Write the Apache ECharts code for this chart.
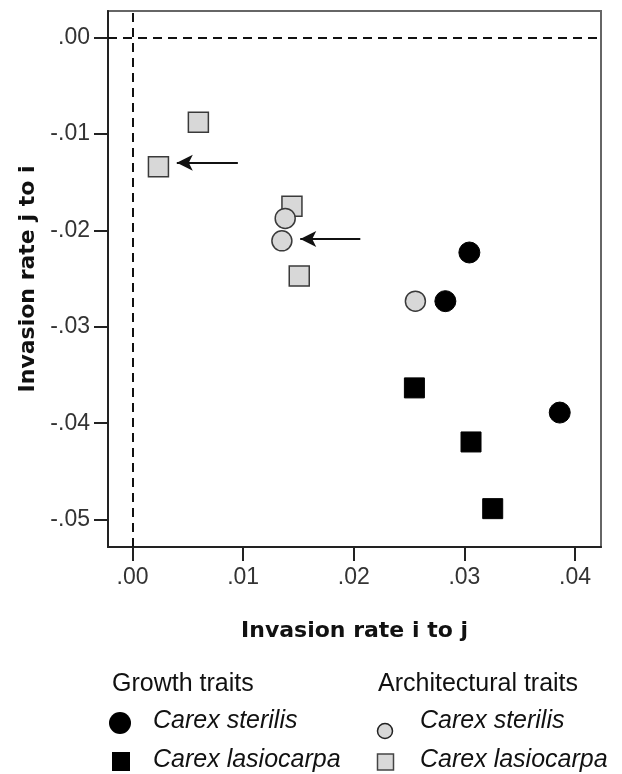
<!DOCTYPE html>
<html>
<head>
<meta charset="utf-8">
<script src="https://cdn.jsdelivr.net/npm/echarts@6/dist/echarts.min.js"></script>
<style>
html,body{margin:0;padding:0;background:#fff;}
#chart{width:622px;height:774px;}
</style>
</head>
<body>
<div id="chart"></div>
<script>
// ---- data ----
const xTicks = [0, 0.01, 0.02, 0.03, 0.04];
const yTicks = [0, -0.01, -0.02, -0.03, -0.04, -0.05];
const growthSterilis = [[0.03045, -0.02229], [0.02828, -0.02734], [0.03862, -0.0389]];
const growthLasiocarpa = [[0.02548, -0.03634], [0.0306, -0.04195], [0.03256, -0.04887]];
const archSterilis = [[0.0138, -0.01875], [0.0135, -0.02108], [0.02557, -0.02734]];
const archLasiocarpa = [[0.00595, -0.00878], [0.00234, -0.01339], [0.01441, -0.01748], [0.01507, -0.02474]];
const arrowLines = [
  [[0.00952, -0.01298], [0.0040, -0.01298]],
  [[0.02059, -0.0209], [0.01516, -0.0209]]
];
const xTitle = 'Invasion rate i to j';
const yTitle = 'Invasion rate j to i';

const fmt = v => (v < -1e-9 ? '-' : '') + Math.abs(v).toFixed(2).replace(/^0/, '');

const chart = echarts.init(document.getElementById('chart'), null, {renderer: 'canvas'});
const tickFont = {fontFamily: 'Liberation Sans, Arial, sans-serif', fontSize: 23, color: '#333'};
const titleFont = {fontFamily: 'DejaVu Sans', fontWeight: 'bold', fontSize: 22, color: '#111'};
const gray = '#d8d8d8';
const edge = '#3a3a3a';

const legendFont = 'Liberation Sans, Arial, sans-serif';
function legendText(x, y, text, italic) {
  return {type: 'text', left: x, top: y - 14, style: {text: text, fill: '#111',
    font: (italic ? 'italic ' : '') + '25px ' + legendFont}};
}

chart.setOption({
  animation: false,
  backgroundColor: '#fff',
  grid: {left: 108, top: 11, right: 21, bottom: 227, show: true, borderColor: '#666', borderWidth: 2},
  xAxis: {
    type: 'value', min: -0.00222, max: 0.04235,
    name: xTitle, nameLocation: 'middle', nameGap: 73, nameTextStyle: titleFont,
    axisLine: {show: true, onZero: false, lineStyle: {color: '#222', width: 2}},
    axisTick: {show: true, length: 14, customValues: xTicks, lineStyle: {color: '#222', width: 2}},
    axisLabel: {customValues: xTicks, formatter: fmt, margin: 19, ...tickFont},
    splitLine: {show: false}
  },
  yAxis: {
    type: 'value', min: -0.05285, max: 0.00277,
    name: yTitle, nameLocation: 'middle', nameGap: 67, nameRotate: 90, nameTextStyle: titleFont,
    axisLine: {show: true, onZero: false, lineStyle: {color: '#222', width: 2}},
    axisTick: {show: true, length: 14, customValues: yTicks, lineStyle: {color: '#222', width: 2}},
    axisLabel: {customValues: yTicks, formatter: fmt, margin: 18, ...tickFont},
    splitLine: {show: false}
  },
  series: [
    {
      name: 'Architectural traits: Carex lasiocarpa', type: 'scatter', symbol: 'rect', symbolSize: 20,
      data: archLasiocarpa, itemStyle: {color: gray, borderColor: edge, borderWidth: 1.5, opacity: 1}, z: 3,
      markLine: {
        silent: true, animation: false, label: {show: false},
        symbol: ['none', 'none'],
        lineStyle: {color: '#111', width: 2, type: [9, 6]},
        data: [{xAxis: 0}, {yAxis: 0}]
      }
    },
    {
      name: 'Architectural traits: Carex sterilis', type: 'scatter', symbol: 'circle', symbolSize: 20,
      data: archSterilis, itemStyle: {color: gray, borderColor: edge, borderWidth: 1.5, opacity: 1}, z: 3,
      markLine: {
        silent: true, animation: false, label: {show: false},
        symbol: ['none', 'arrow'], symbolSize: [12, 16],
        lineStyle: {color: '#111', width: 2, type: 'solid'},
        data: arrowLines.map(l => [{coord: l[0]}, {coord: l[1]}])
      }
    },
    {
      name: 'Growth traits: Carex sterilis', type: 'scatter', symbol: 'circle', symbolSize: 21,
      data: growthSterilis, itemStyle: {color: '#000', borderColor: '#000', borderWidth: 1, opacity: 1}, z: 3
    },
    {
      name: 'Growth traits: Carex lasiocarpa', type: 'scatter', symbol: 'rect', symbolSize: 20,
      data: growthLasiocarpa, itemStyle: {color: '#000', borderColor: '#000', borderWidth: 1, opacity: 1}, z: 3
    }
  ],
  graphic: [
    legendText(112, 686, 'Growth traits', false),
    legendText(378, 686, 'Architectural traits', false),
    {type: 'circle', shape: {cx: 120, cy: 723, r: 11}, style: {fill: '#000'}},
    legendText(153, 723, 'Carex sterilis', true),
    {type: 'rect', shape: {x: 112, y: 752, width: 18, height: 19}, style: {fill: '#000'}},
    legendText(153, 762, 'Carex lasiocarpa', true),
    {type: 'circle', shape: {cx: 385, cy: 731, r: 7.5}, style: {fill: gray, stroke: '#222', lineWidth: 1.5}},
    legendText(420, 723, 'Carex sterilis', true),
    {type: 'rect', shape: {x: 377.5, y: 754, width: 16, height: 16}, style: {fill: gray, stroke: '#444', lineWidth: 1.5}},
    legendText(420, 762, 'Carex lasiocarpa', true)
  ]
});
</script>
</body>
</html>
